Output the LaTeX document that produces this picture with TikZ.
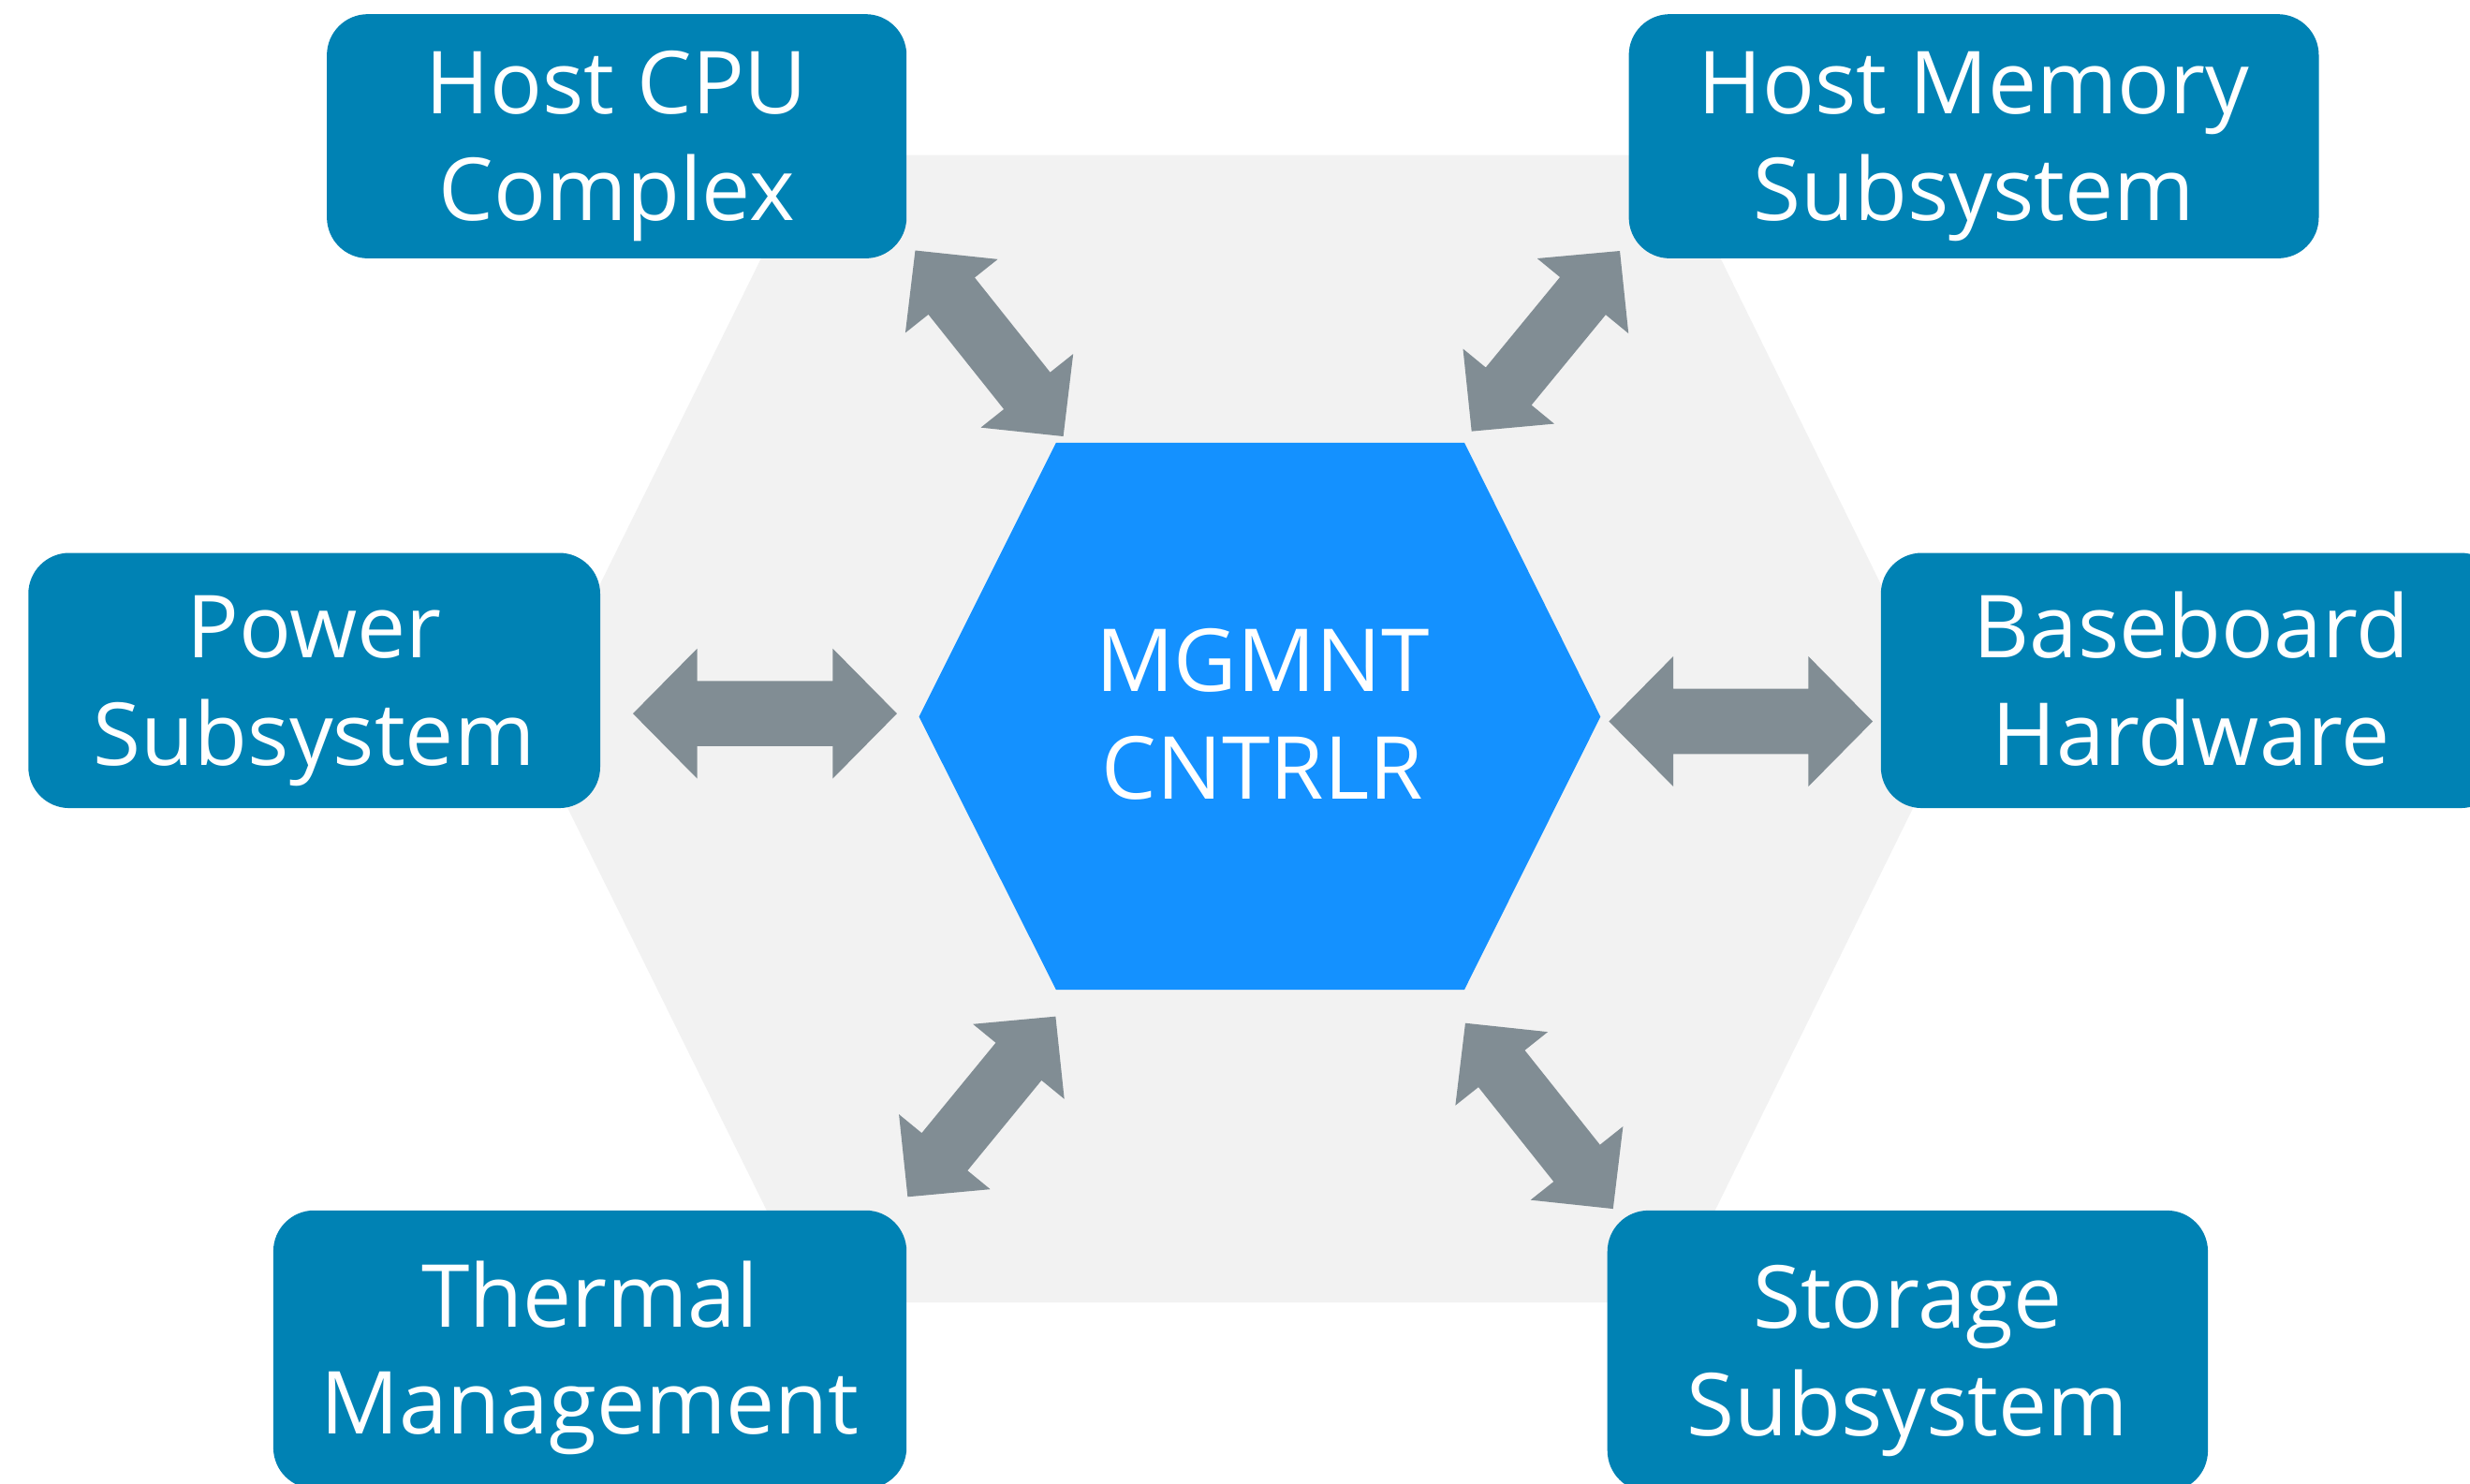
\documentclass[tikz,border=0pt]{standalone}
\usepackage{fontspec}
\setmainfont{Open Sans}
\usetikzlibrary{calc}
\definecolor{boxblue}{HTML}{0082B4}
\definecolor{hexblue}{HTML}{1491FF}
\definecolor{hexgray}{HTML}{F2F2F2}
\definecolor{arrowgray}{HTML}{818D94}
% double block arrow between two named points:
% #1 #2 tips, #3 head length, #4 head half width, #5 shaft half width
\newcommand\dblarrow[5]{%
  \fill[arrowgray] (#1)
    -- ($(#1)!#3!(#2)!#4!90:(#2)$) -- ($(#1)!#3!(#2)!#5!90:(#2)$)
    -- ($(#2)!#3!(#1)!#5!-90:(#1)$) -- ($(#2)!#3!(#1)!#4!-90:(#1)$)
    -- (#2)
    -- ($(#2)!#3!(#1)!#4!90:(#1)$) -- ($(#2)!#3!(#1)!#5!90:(#1)$)
    -- ($(#1)!#3!(#2)!#5!-90:(#2)$) -- ($(#1)!#3!(#2)!#4!-90:(#2)$)
    -- cycle;}
\begin{document}
\begin{tikzpicture}[x=0.5pt,y=-0.5pt,
  lbl/.style={text=white, align=center, font=\fontsize{27.6}{34}\selectfont,
    text height=53.7pt, text depth=0pt, inner sep=0pt},
  sysbox/.style={lbl, fill=boxblue, rounded corners=13pt}]
\useasboundingbox (0,0) rectangle (1568,942);
\clip (0,0) rectangle (1568,942);
\fill[white] (0,0) rectangle (1568,942);
% background hexagon
\fill[hexgray] (335.5,462.7) -- (515.6,98.5) -- (1060,98.5) -- (1239.1,462.7)
  -- (1060,826.8) -- (515.6,826.8) -- cycle;
% system boxes
\node[sysbox, minimum width=184pt, minimum height=77.5pt] (cpu) at (391.5,86.5) {Host CPU\\Complex};
\node[sysbox, minimum width=219pt, minimum height=77.5pt] (mem) at (1253,86.5) {Host Memory\\Subsystem};
\node[sysbox, minimum width=181.5pt, minimum height=81pt] (pwr) at (199.5,432) {Power\\Subsystem};
\node[sysbox, minimum width=197pt, minimum height=81pt] (base) at (1391,432) {Baseboard\\Hardware};
\node[sysbox, minimum width=201pt, minimum height=88.3pt] (therm) at (374.5,856.7) {Thermal\\Management};
\node[sysbox, minimum width=190.6pt, minimum height=89.25pt] (stor) at (1211,857.7) {Storage\\Subsystem};
% management controller hexagon
\fill[hexblue] (583.4,455) -- (670.4,281) -- (929.6,281) -- (1016,455)
  -- (929.6,628.3) -- (670.4,628.3) -- cycle;
\node[lbl] (mgmt) at (801.5,453.5) {MGMNT\\CNTRLR};
% arrow end points
\coordinate (cpuE) at (581,159);   \coordinate (cpuM) at (675,277);
\coordinate (memE) at (1028.3,159.3); \coordinate (memM) at (934.2,273.8);
\coordinate (pwrE) at (401.8,453); \coordinate (pwrM) at (569.4,453);
\coordinate (baseM) at (1021.4,458); \coordinate (baseE) at (1188.8,458);
\coordinate (thermM) at (670.1,645.3); \coordinate (thermE) at (576.2,759.8);
\coordinate (storM) at (930.2,649.5); \coordinate (storE) at (1024,767.4);
% arrows
\dblarrow{cpuE}{cpuM}{18.5pt}{18.75pt}{9.4pt}
\dblarrow{memE}{memM}{18.5pt}{18.75pt}{9.4pt}
\dblarrow{pwrE}{pwrM}{20.4pt}{20.65pt}{10.35pt}
\dblarrow{baseM}{baseE}{20.4pt}{20.65pt}{10.35pt}
\dblarrow{thermM}{thermE}{18.5pt}{18.75pt}{9.4pt}
\dblarrow{storM}{storE}{18.5pt}{18.75pt}{9.4pt}
\end{tikzpicture}
\end{document}
